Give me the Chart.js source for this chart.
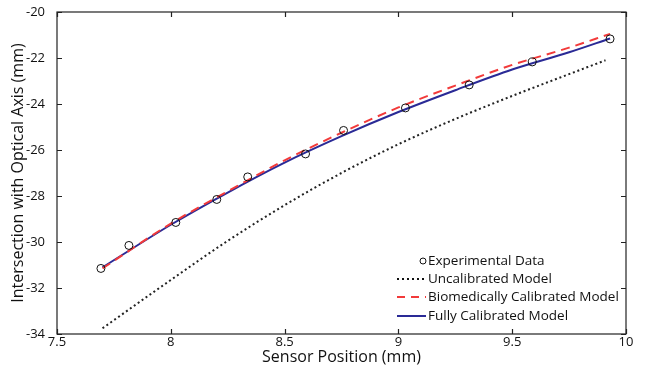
<!DOCTYPE html>
<html>
<head>
<meta charset="utf-8">
<script src="https://cdn.jsdelivr.net/npm/chart.js@4"></script>
<style>
  html, body { margin: 0; padding: 0; background: #fff; }
  #wrap { width: 651px; height: 373px; }
</style>
</head>
<body>
<div id="wrap"><canvas id="chart"></canvas></div>
<script>
// measured points
const expX = [7.693, 7.816, 8.022, 8.202, 8.338, 8.592, 8.759, 9.031, 9.311, 9.588, 9.930];
const expY = [-31.15, -30.15, -29.15, -28.15, -27.17, -26.17, -25.15, -24.17, -23.17, -22.17, -21.17];

// model curves
const modelX = [7.7, 8.0, 8.25, 8.5, 8.75, 9.0, 9.25, 9.5, 9.75, 9.93];
const uncalX = [7.7, 8.0, 8.25, 8.5, 8.75, 9.0, 9.25, 9.5, 9.75, 9.91];
const uncalY = [-33.75, -31.65, -29.95, -28.4, -27.0, -25.75, -24.65, -23.65, -22.7, -22.1];
const bioY = [-31.15, -29.2, -27.8, -26.45, -25.25, -24.15, -23.2, -22.3, -21.55, -20.95];
const fullY = [-31.1, -29.25, -27.85, -26.55, -25.4, -24.35, -23.4, -22.5, -21.75, -21.15];

const xTicks = [7.5, 8, 8.5, 9, 9.5, 10];
const yTicks = [-34, -32, -30, -28, -26, -24, -22, -20];

const FONT = '"Open Sans", "Noto Sans", sans-serif';
const BLUE = '#2a2a96';
const RED = '#f23a3a';

const pts = (xs, ys) => xs.map((x, i) => ({ x: x, y: ys[i] }));

// inward ticks on all four sides + legend inside the plot
const frame = {
  id: 'frame',
  afterDraw(chart) {
    const { ctx, chartArea: a, scales: { x, y } } = chart;
    ctx.save();
    ctx.strokeStyle = '#222';
    ctx.lineWidth = 1.2;
    ctx.strokeRect(a.left, a.top, a.right - a.left, a.bottom - a.top);
    ctx.beginPath();
    xTicks.forEach(v => {
      const px = Math.round(x.getPixelForValue(v)) + 0.5;
      ctx.moveTo(px, a.bottom); ctx.lineTo(px, a.bottom - 5);
      ctx.moveTo(px, a.top); ctx.lineTo(px, a.top + 5);
    });
    yTicks.forEach(v => {
      const py = Math.round(y.getPixelForValue(v)) + 0.5;
      ctx.moveTo(a.left, py); ctx.lineTo(a.left + 5, py);
      ctx.moveTo(a.right, py); ctx.lineTo(a.right - 5, py);
    });
    ctx.stroke();

    // legend
    const tx = 428, x0 = 397;
    const rows = [261, 279, 297, 316];
    ctx.font = '13.5px ' + FONT;
    ctx.fillStyle = '#111';
    ctx.textBaseline = 'middle';
    const names = chart.data.datasets.map(d => d.label);
    names.forEach((n, i) => ctx.fillText(n, tx, rows[i]));

    ctx.beginPath();
    ctx.arc(423, rows[0], 3, 0, Math.PI * 2);
    ctx.strokeStyle = '#111'; ctx.lineWidth = 1; ctx.stroke();

    ctx.lineWidth = 2;
    ctx.strokeStyle = '#111'; ctx.setLineDash([2, 3]);
    ctx.beginPath(); ctx.moveTo(x0, rows[1]); ctx.lineTo(tx - 2, rows[1]); ctx.stroke();
    ctx.strokeStyle = RED; ctx.setLineDash([8, 6]);
    ctx.beginPath(); ctx.moveTo(x0, rows[2]); ctx.lineTo(tx - 2, rows[2]); ctx.stroke();
    ctx.strokeStyle = BLUE; ctx.setLineDash([]);
    ctx.beginPath(); ctx.moveTo(x0, rows[3]); ctx.lineTo(tx - 2, rows[3]); ctx.stroke();
    ctx.restore();
  }
};

new Chart(document.getElementById('chart'), {
  type: 'line',
  data: {
    datasets: [
      {
        label: 'Experimental Data',
        data: pts(expX, expY),
        showLine: false,
        pointRadius: 4,
        pointBorderWidth: 1,
        pointBorderColor: '#111',
        pointBackgroundColor: 'rgba(0,0,0,0)',
        order: 0
      },
      {
        label: 'Uncalibrated Model',
        data: pts(uncalX, uncalY),
        borderColor: '#222',
        borderWidth: 2,
        borderDash: [2, 2.8],
        pointRadius: 0,
        cubicInterpolationMode: 'monotone',
        order: 3
      },
      {
        label: 'Biomedically Calibrated Model',
        data: pts(modelX, bioY),
        borderColor: RED,
        borderWidth: 2,
        borderDash: [9, 6],
        pointRadius: 0,
        cubicInterpolationMode: 'monotone',
        order: 1
      },
      {
        label: 'Fully Calibrated Model',
        data: pts(modelX, fullY),
        borderColor: BLUE,
        borderWidth: 2,
        pointRadius: 0,
        cubicInterpolationMode: 'monotone',
        order: 2
      }
    ]
  },
  options: {
    responsive: true,
    maintainAspectRatio: false,
    animation: false,
    layout: { padding: { left: 0, right: 25, top: 12, bottom: 0 } },
    plugins: { legend: { display: false }, tooltip: { enabled: false } },
    scales: {
      x: {
        type: 'linear',
        min: 7.5, max: 10,
        afterBuildTicks: s => { s.ticks = xTicks.map(v => ({ value: v })); },
        afterFit: s => { s.height = 39; },
        grid: { display: false, drawTicks: false },
        border: { display: false },
        ticks: { color: '#111', font: { family: FONT, size: 13 }, padding: 0, maxRotation: 0,
                 callback: v => String(v) },
        title: { display: true, text: 'Sensor Position (mm)', color: '#111',
                 font: { family: FONT, size: 16 }, padding: { top: 0, bottom: 6 } }
      },
      y: {
        min: -34, max: -20,
        afterBuildTicks: s => { s.ticks = yTicks.map(v => ({ value: v })); },
        afterFit: s => { s.width = 57; },
        grid: { display: false },
        border: { display: false },
        ticks: { color: '#111', font: { family: FONT, size: 13 }, padding: 4,
                 callback: v => String(v) },
        title: { display: true, text: 'Intersection with Optical Axis (mm)', color: '#111',
                 font: { family: FONT, size: 16 }, padding: { top: 9, bottom: 0 } }
      }
    }
  },
  plugins: [frame]
});
</script>
</body>
</html>
